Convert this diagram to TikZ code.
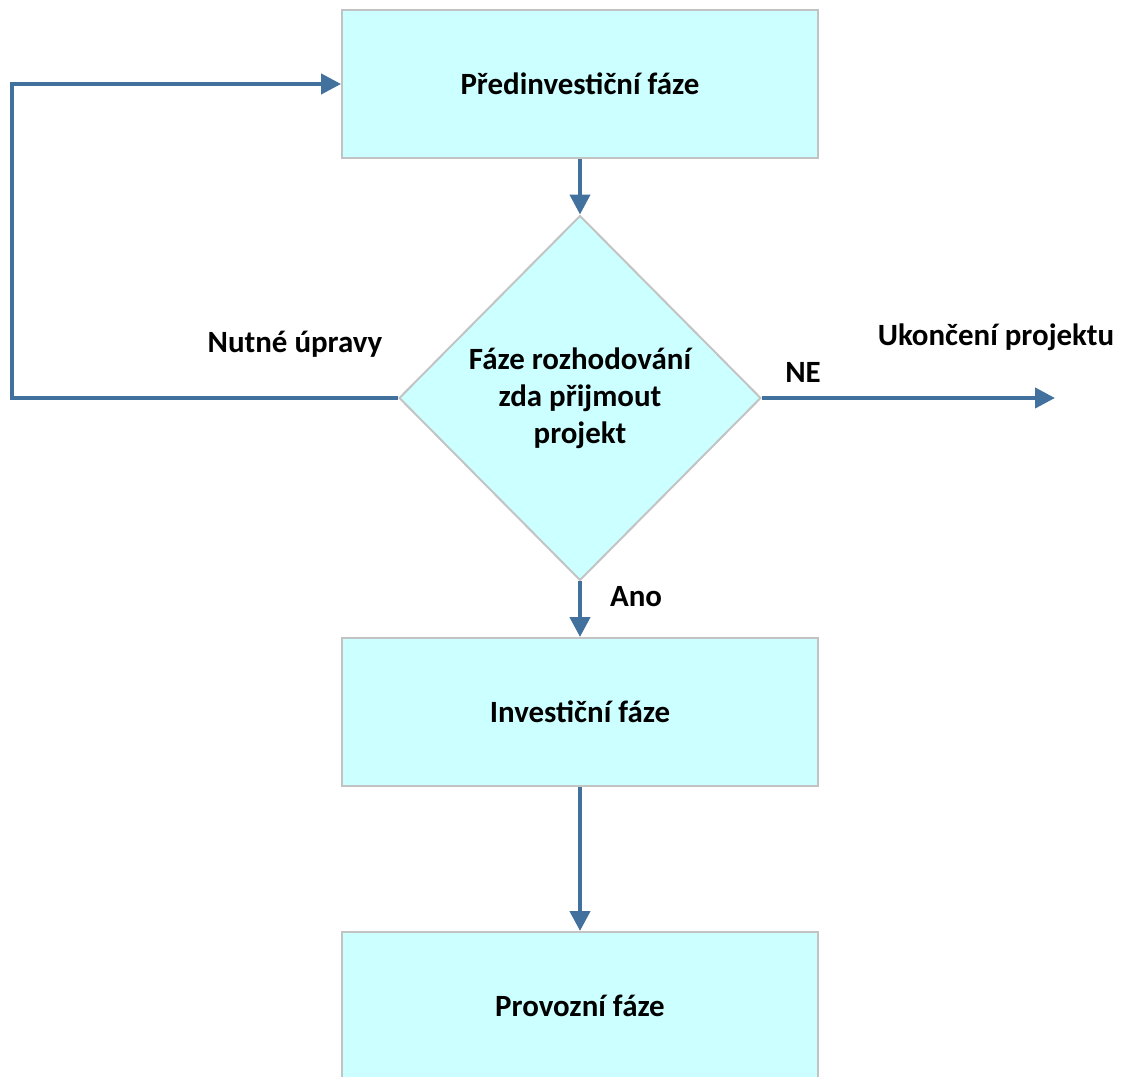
\documentclass[tikz,border=0pt]{standalone}
\usepackage{fontspec}
\setmainfont{Carlito}
\usetikzlibrary{shapes.geometric,arrows.meta}
\definecolor{boxfill}{RGB}{204,255,255}
\definecolor{boxline}{RGB}{195,195,195}
\definecolor{flowblue}{RGB}{65,113,156}
\begin{document}
\begin{tikzpicture}[x=0.02cm,y=-0.02cm,
    phase/.style={draw=boxline,line width=0.04cm,fill=boxfill,minimum width=9.52cm,minimum height=2.96cm,inner sep=0pt,font=\fontsize{17.6}{21}\selectfont\bfseries},
    decision/.style={diamond,aspect=1,draw=boxline,line width=0.04cm,fill=boxfill,minimum width=7.24cm,minimum height=7.3cm,inner sep=0pt,align=center,font=\fontsize{17.6}{21}\selectfont\bfseries},
    flow/.style={draw=flowblue,line width=0.085cm,-{Triangle[length=0.4cm,width=0.4cm]}},
    lbl/.style={font=\fontsize{17.6}{21}\selectfont\bfseries}]
    \useasboundingbox (0,0) rectangle (1127,1077);
    \node[phase] (pre) at (580,84) {Předinvestiční fáze};
    \node[decision] (rozh) at (580,398) {Fáze rozhodování\\zda přijmout\\projekt};
    \node[phase] (inv) at (580,712) {Investiční fáze};
    \node[phase] (prov) at (580,1006) {Provozní fáze};
    \coordinate (lb) at (12,398);
    \coordinate (konec) at (1055,398);

    \draw[flow] (pre.south) -- (rozh.north);
    \draw[flow] (rozh.south) -- (inv.north);
    \draw[flow] (inv.south) -- (prov.north);
    \draw[flow] (rozh.west) -- (lb) |- (pre.west);
    \draw[flow] (rozh.east) -- (konec);

    \node[lbl] (upravy) at (295,344) {Nutné úpravy};
    \node[lbl] (ukonceni) at (996,337) {Ukončení projektu};
    \node[lbl] (ne) at (803,372) {NE};
    \node[lbl] (ano) at (636,597) {Ano};
\end{tikzpicture}
\end{document}
